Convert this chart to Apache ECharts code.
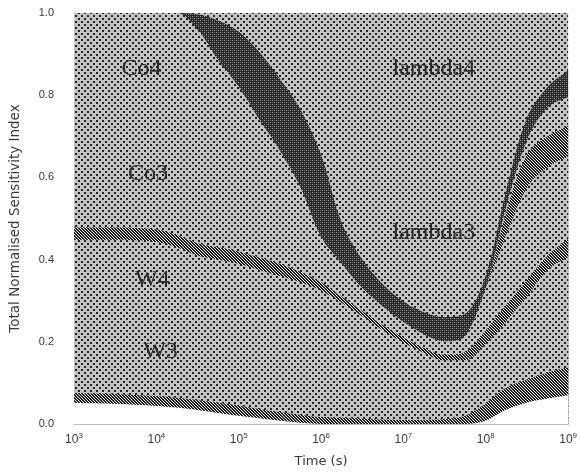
<!DOCTYPE html>
<html>
<head>
<meta charset="utf-8">
<script src="https://cdn.jsdelivr.net/npm/echarts@6/dist/echarts.min.js"></script>
<style>
html,body{margin:0;padding:0;background:#fff;}
#chart{width:580px;height:473px;}
</style>
</head>
<body>
<div id="chart"></div>
<script>
// ---- data (log10 of time in seconds, and boundary values of each band) ----
const timeExponents = [3, 3.5, 4, 4.25, 4.5, 4.75, 5, 5.25, 5.5, 5.75, 6, 6.25, 6.5, 6.75, 7, 7.25, 7.5, 7.75, 8, 8.25, 8.5, 8.75, 9];
const xTickExponents = [3, 4, 5, 6, 7, 8, 9];
const yTicks = [0, 0.2, 0.4, 0.6, 0.8, 1.0];

const topBoundary   = [1, 1, 1, 1, 1, 1, 1, 1, 1, 1, 1, 1, 1, 1, 1, 1, 1, 1, 1, 1, 1, 1, 1];
const darkUpper     = [1, 1, 1, 1, 0.997, 0.982, 0.955, 0.905, 0.84, 0.765, 0.655, 0.49, 0.40, 0.34, 0.298, 0.272, 0.26, 0.268, 0.362, 0.57, 0.745, 0.82, 0.86];
const darkLower     = [1, 1, 1, 1, 0.96, 0.885, 0.82, 0.74, 0.665, 0.575, 0.455, 0.39, 0.33, 0.286, 0.248, 0.218, 0.201, 0.214, 0.33, 0.53, 0.69, 0.77, 0.795];
const rightHatchTop = [1, 1, 1, 1, 0.96, 0.885, 0.82, 0.74, 0.665, 0.575, 0.455, 0.39, 0.33, 0.286, 0.248, 0.218, 0.201, 0.214, 0.33, 0.515, 0.655, 0.70, 0.725];
const rightHatchBot = [1, 1, 1, 1, 0.96, 0.885, 0.82, 0.74, 0.665, 0.575, 0.455, 0.39, 0.33, 0.286, 0.248, 0.218, 0.201, 0.214, 0.33, 0.46, 0.575, 0.625, 0.65];
const midHatchTop   = [0.478, 0.478, 0.473, 0.46, 0.44, 0.43, 0.42, 0.405, 0.39, 0.37, 0.345, 0.31, 0.275, 0.24, 0.21, 0.185, 0.168, 0.175, 0.228, 0.29, 0.35, 0.41, 0.45];
const midHatchBot   = [0.448, 0.448, 0.443, 0.43, 0.41, 0.40, 0.39, 0.375, 0.36, 0.345, 0.325, 0.295, 0.262, 0.228, 0.198, 0.173, 0.155, 0.155, 0.195, 0.25, 0.31, 0.375, 0.405];
const lowHatchTop   = [0.075, 0.073, 0.068, 0.064, 0.058, 0.052, 0.045, 0.036, 0.029, 0.022, 0.017, 0.015, 0.013, 0.011, 0.010, 0.010, 0.012, 0.020, 0.050, 0.088, 0.108, 0.125, 0.138];
const lowHatchBot   = [0.051, 0.049, 0.044, 0.040, 0.034, 0.027, 0.020, 0.014, 0.008, 0.003, 0, 0, 0, 0, 0, 0, 0, 0, 0.008, 0.035, 0.052, 0.062, 0.070];

const regionLabels = ['Co4', 'Co3', 'W4', 'W3', 'lambda4', 'lambda3'];
const labelExponents = [3.82, 3.9, 3.95, 4.05, 7.37, 7.37];
const labelValues = [0.865, 0.61, 0.35, 0.175, 0.865, 0.465];

// ---- patterns ----
function makePattern(size, draw) {
  const c = document.createElement('canvas');
  c.width = size; c.height = size;
  const g = c.getContext('2d');
  draw(g);
  return { image: c, repeat: 'repeat' };
}
const dotted = makePattern(6, g => {
  g.fillStyle = '#c2c2c2'; g.fillRect(0, 0, 6, 6);
  g.fillStyle = '#222222';
  g.fillRect(0, 0, 2, 2); g.fillRect(3, 3, 2, 2);
});
const hatched = makePattern(3, g => {
  g.fillStyle = '#ececec'; g.fillRect(0, 0, 3, 3);
  g.fillStyle = '#1e1e1e';
  for (let y = 0; y < 3; y++) { g.fillRect(y % 3, y, 1, 1); g.fillRect((y + 1) % 3, y, 1, 1); }
});
const dark = makePattern(4, g => {
  g.fillStyle = '#2a2a2a'; g.fillRect(0, 0, 4, 4);
  g.fillStyle = '#9c9c9c';
  g.fillRect(0, 0, 1, 1); g.fillRect(2, 2, 1, 1);
  g.fillStyle = '#5a5a5a';
  g.fillRect(2, 0, 1, 1); g.fillRect(0, 2, 1, 1);
});
const white = '#ffffff';

const times = timeExponents.map(e => Math.pow(10, e));
function layer(name, vals, fill) {
  return {
    name: name, type: 'line', smooth: 0.35, showSymbol: false, silent: true,
    lineStyle: { width: 0 },
    areaStyle: { color: fill, opacity: 1, origin: 'start' },
    data: times.map((t, i) => [t, vals[i]])
  };
}

const chart = echarts.init(document.getElementById('chart'), null, { renderer: 'canvas' });
const option = {
  animation: false,
  backgroundColor: '#fff',
  grid: { left: 72, right: 10, top: 13, bottom: 48 },
  xAxis: {
    type: 'log', logBase: 10, min: 1e3, max: 1e9,
    name: 'Time (s)', nameLocation: 'middle', nameGap: 31,
    nameTextStyle: { fontFamily: 'DejaVu Sans', fontSize: 13, color: '#3a3a3a' },
    axisLine: { show: true, lineStyle: { color: '#aaa', type: 'dotted' } },
    axisTick: { show: false },
    splitLine: { show: false },
    axisLabel: {
      margin: 8, color: '#333',
      formatter: v => {
        const e = Math.round(Math.log10(v));
        return xTickExponents.indexOf(e) >= 0 ? '{b|10}{s|' + e + '}' : '';
      },
      rich: {
        b: { fontFamily: 'Liberation Sans', fontSize: 12, color: '#3a3a3a' },
        s: { fontFamily: 'Liberation Sans', fontSize: 8, color: '#3a3a3a', verticalAlign: 'top', padding: [0, 0, 8, 0] }
      }
    }
  },
  yAxis: {
    type: 'value', min: yTicks[0], max: yTicks[yTicks.length - 1], interval: 0.2,
    name: 'Total Normalised Sensitivity Index', nameLocation: 'middle', nameGap: 52,
    nameTextStyle: { fontFamily: 'DejaVu Sans', fontSize: 13.5, color: '#3a3a3a' },
    axisLine: { show: true, lineStyle: { color: '#aaa', type: 'dotted' } },
    axisTick: { show: false },
    splitLine: { show: false },
    axisLabel: { margin: 20, color: '#3a3a3a', fontFamily: 'Liberation Sans', fontSize: 11,
      formatter: v => v.toFixed(1) }
  },
  series: [
    layer('top', topBoundary, dotted),
    layer('darkUpper', darkUpper, dark),
    layer('darkLower', darkLower, dotted),
    layer('rightHatchTop', rightHatchTop, hatched),
    layer('rightHatchBot', rightHatchBot, dotted),
    layer('midHatchTop', midHatchTop, hatched),
    layer('midHatchBot', midHatchBot, dotted),
    layer('lowHatchTop', lowHatchTop, hatched),
    layer('lowHatchBot', lowHatchBot, white)
  ]
};
chart.setOption(option);

const graphics = regionLabels.map((txt, i) => {
  const p = chart.convertToPixel({ gridIndex: 0 }, [Math.pow(10, labelExponents[i]), labelValues[i]]);
  return {
    type: 'text', x: p[0], y: p[1], z: 100,
    style: { text: txt, fontFamily: 'Liberation Serif', fontSize: 24, fill: '#2a2a2a',
      align: 'center', verticalAlign: 'middle' }
  };
});
chart.setOption({ graphic: graphics });
</script>
</body>
</html>
